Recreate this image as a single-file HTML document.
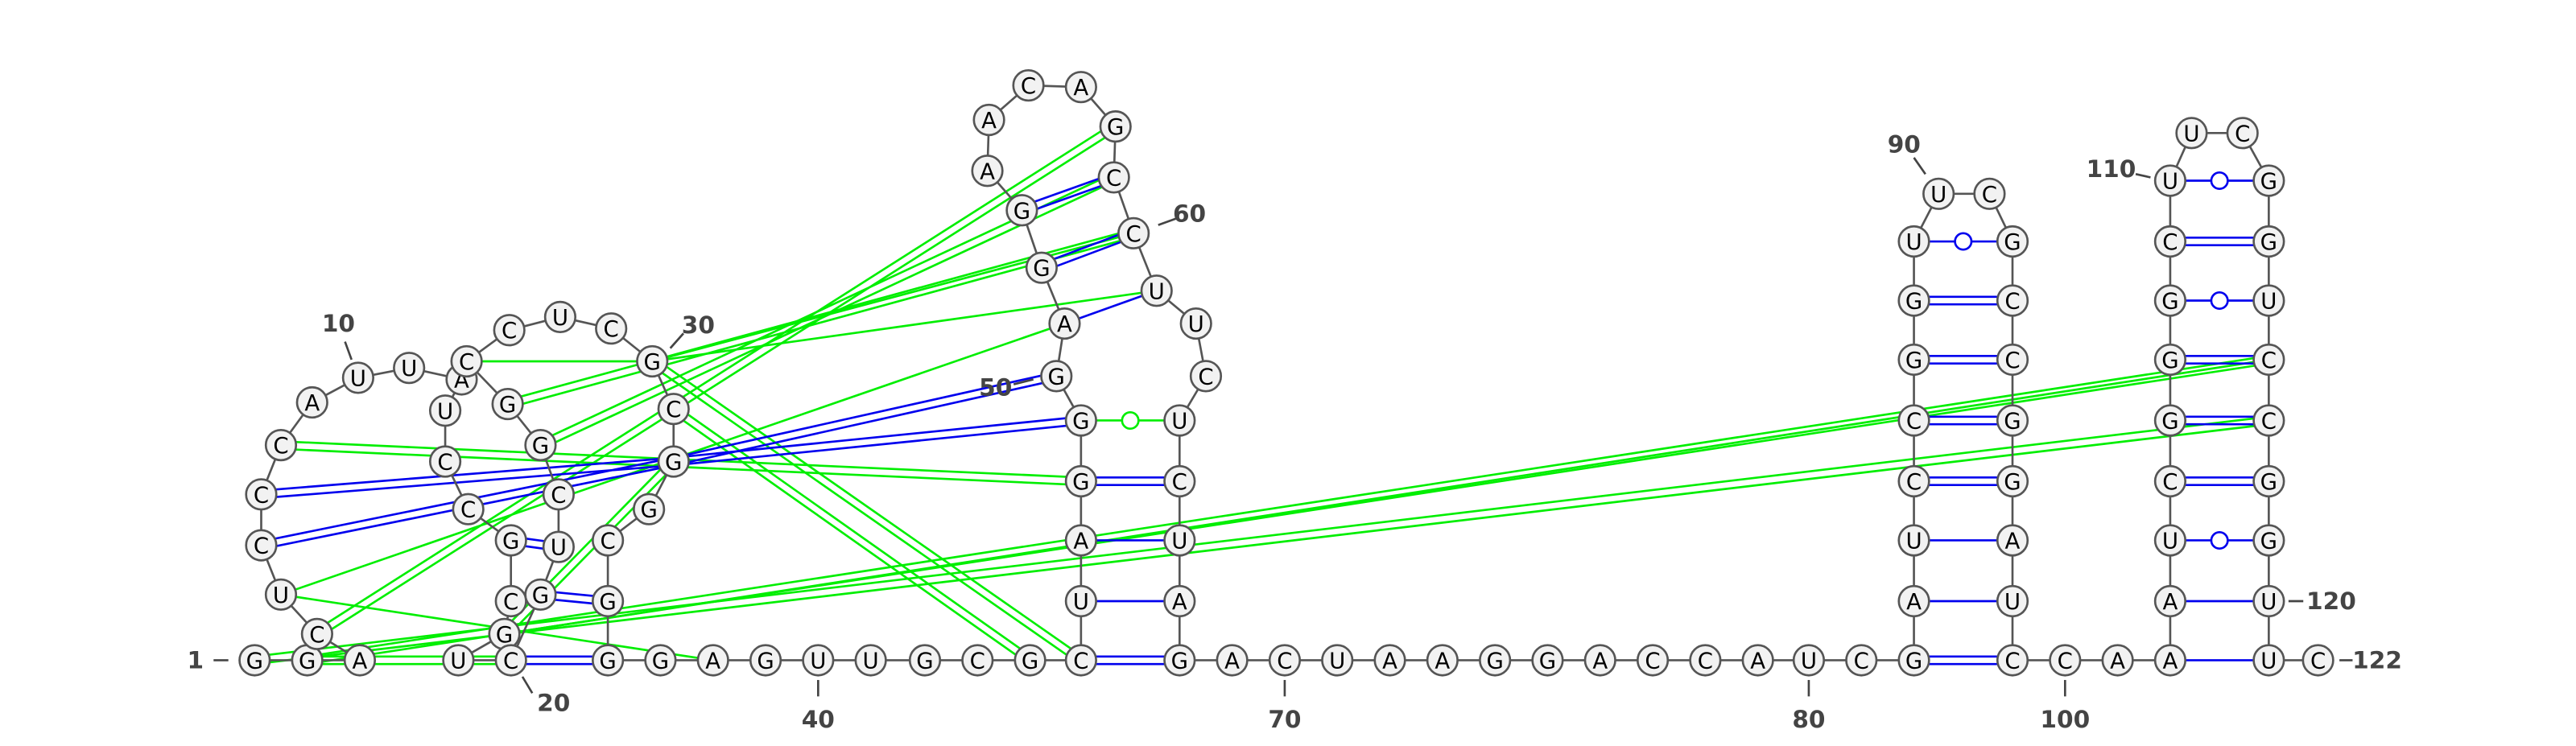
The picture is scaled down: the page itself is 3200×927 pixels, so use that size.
<!DOCTYPE html>
<html><head><meta charset="utf-8"><style>
html,body{margin:0;padding:0;background:#fff;}
svg{display:block;}
.nt{font-family:"DejaVu Sans","Liberation Sans",sans-serif;font-size:13.5px;fill:#000;text-anchor:middle;dominant-baseline:central;}
.lb{font-family:"DejaVu Sans","Liberation Sans",sans-serif;font-size:14.5px;font-weight:bold;fill:#444;text-anchor:middle;dominant-baseline:central;}
</style></head><body>
<svg id="chart" width="3200" height="927" viewBox="0 0 1568 454.2" preserveAspectRatio="none" xmlns="http://www.w3.org/2000/svg">
<g id="pairs"></g>
<g id="backbone"></g>
<g id="nodes"></g>
<g id="labels"></g>
</svg>
<script>
const sequence = ["G","G","A","C","U","C","C","C","A","U",
 "U","A","U","C","C","G","C","G","U","C",
 "G","U","C","G","G","C","C","U","C","G",
 "C","G","G","C","G","G","G","A","G","U",
 "U","G","C","G","C","U","A","G","G","G",
 "A","G","G","A","A","C","A","G","C","C",
 "U","U","C","U","C","U","A","G","A","C",
 "U","A","A","G","G","A","C","C","A","U",
 "C","G","A","U","C","C","G","G","U","U",
 "C","G","C","C","G","G","A","U","C","C",
 "A","A","A","U","C","G","G","G","C","U",
 "U","C","G","G","U","C","C","G","G","U",
 "U","C"];
const layoutX = [0,155,187,219,193,171,159,159,171,190,218,249,281,271,271,285,311,311,307,279,311,329,340,340,329,309,284,310,341,372,397,410,410,395,370,370,370,402,434,466,498,530,563,595,627,658,658,658,658,658,643,648,634,622,601,602,626,658,679,678,690,704,728,734,718,718,718,718,718,750,782,814,846,878,910,942,974,1006,1038,1070,1101,1133,1165,1165,1165,1165,1165,1165,1165,1165,1180,1211,1225,1225,1225,1225,1225,1225,1225,1225,1257,1289,1321,1321,1321,1321,1321,1321,1321,1321,1321,1334,1365,1381,1381,1381,1381,1381,1381,1381,1381,1381,1411];
const layoutY = [0,402,402,402,386,362,332,301,271,245,230,224,231,250,281,310,329,366,386,402,402,362,333,301,271,246,220,201,193,200,220,249,281,310,329,366,402,402,402,402,402,402,402,402,402,402,366,329,293,256,229,197,163,128,104,73,52,53,77,108,142,177,197,229,256,293,329,366,402,402,402,402,402,402,402,402,402,402,402,402,402,402,402,366,329,293,256,219,183,147,118,118,147,183,219,256,293,329,366,402,402,402,402,366,329,293,256,219,183,147,110,81,81,110,147,183,219,256,293,329,366,402,402];
// pair arrays: [i, j, kind] kind: 2=double, 1=single, 0=wobble circle
const bluePairs = [[20,36,2],[16,22,2],[21,35,2],[45,68,2],[46,67,1],[47,66,1],[48,65,2],[53,59,2],[52,60,2],[51,61,1],
 [7,32,2],[6,32,2],[32,50,2],[32,49,2],
 [82,99,2],[83,98,1],[84,97,1],[85,96,2],[86,95,2],[87,94,2],[88,93,2],[89,92,0],
 [102,121,1],[103,120,1],[104,119,0],[105,118,2],[106,117,2],[107,116,2],[108,115,0],[109,114,2],[110,113,0]];
const greenPairs = [[49,64,0],[4,58,2],[24,59,2],[25,60,2],[26,30,1],[30,61,1],[30,60,1],[30,45,2],[31,44,2],
 [8,48,2],[5,51,1],[5,38,1],[1,117,2],[2,116,2],[2,20,2],[18,32,2],[18,116,1]];
const labelPos = [[1,119,402,130,402,139,402],[10,206,197,210,208,214,219],[20,337,428,318,412,324,422],[30,425,198,416,203,408,212],
 [40,498,438,498,414,498,424],[50,606,236,617,234,629,231],[60,724,130,705,137,716,133],[70,782,438,782,414,782,424],
 [80,1101,438,1101,414,1101,424],[90,1159,88,1165,96,1172,106],[100,1257,438,1257,414,1257,424],[110,1285,103,1300,106,1309,108],
 [120,1419,366,1393,366,1402,366],[122,1447,402,1424,402,1432,402]];
const NS="http://www.w3.org/2000/svg";
function mk(t,a,p){const e=document.createElementNS(NS,t);for(const k in a)e.setAttribute(k,a[k]);p.appendChild(e);return e;}
const gP=document.getElementById('pairs'),gB=document.getElementById('backbone'),gN=document.getElementById('nodes'),gL=document.getElementById('labels');
function px(i){return layoutX[i];} function py(i){return layoutY[i];}
function drawPair(p,col){
  const [i,j,k]=p;const x1=px(i),y1=py(i),x2=px(j),y2=py(j);
  const dx=x2-x1,dy=y2-y1,L=Math.hypot(dx,dy)||1,nx=-dy/L*2.3,ny=dx/L*2.3;
  if(k===2){
    for(const s of [-1,1]){
      const l=mk('line',{x1:x1+nx*s,y1:y1+ny*s,x2:x2+nx*s,y2:y2+ny*s,stroke:col,'stroke-width':1.3},gP);
      
      
    }
  } else {
    const l=mk('line',{x1:x1,y1:y1,x2:x2,y2:y2,stroke:col,'stroke-width':1.3},gP);
    
    
    if(k===0){
      const c=mk('circle',{cx:(x1+x2)/2,cy:(y1+y2)/2,r:5,fill:'#fff',stroke:col,'stroke-width':1.3},gP);
      
      
    }
  }
}
greenPairs.forEach(p=>drawPair(p,'#00ee00'));
bluePairs.forEach(p=>drawPair(p,'#0000ee'));
for(let i=1;i<sequence.length;i++){
  const l=mk('line',{x1:px(i),y1:py(i),x2:px(i+1),y2:py(i+1),stroke:'#555','stroke-width':1.3},gB);
  
  
}
for(let i=1;i<=sequence.length;i++){
  const g=mk('g',{},gN);
  
  
  mk('circle',{cx:px(i),cy:py(i),r:9.2,fill:'#f2f2f2',stroke:'#555','stroke-width':1.3},g);
  const t=mk('text',{x:px(i),y:py(i)+0.5,class:'nt'},g);t.textContent=sequence[i-1];
}
labelPos.forEach(l=>{
  const [n,tx,ty,a,b,c,d]=l;
  const g=mk('g',{},gL);
  
  
  mk('line',{x1:a,y1:b,x2:c,y2:d,stroke:'#444','stroke-width':1.3},g);
  const t=mk('text',{x:tx,y:ty,class:'lb'},g);t.textContent=n;
});
</script>
</body></html>
